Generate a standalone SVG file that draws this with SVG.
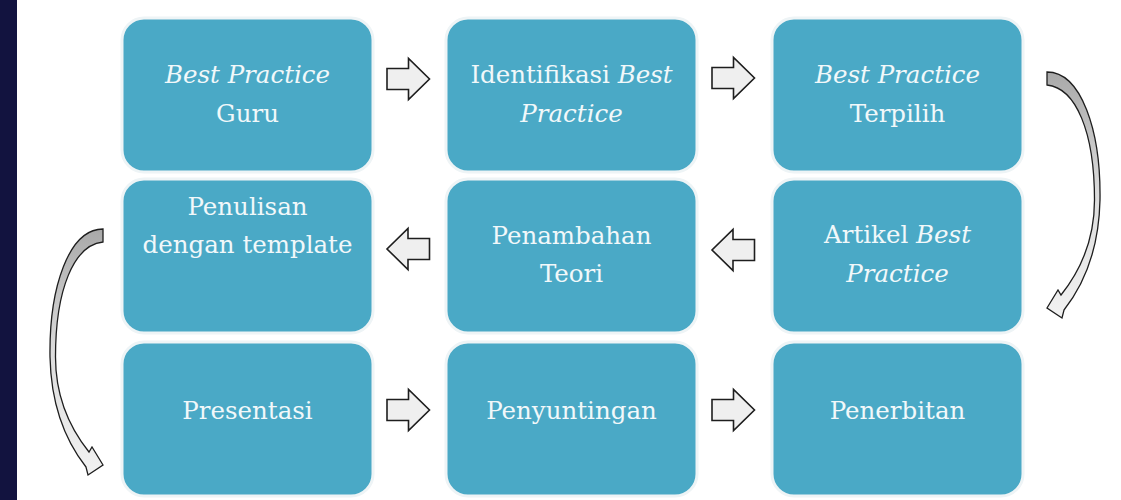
<svg xmlns="http://www.w3.org/2000/svg" width="1121" height="500" viewBox="0 0 1121 500">
  <style>
    .box { fill: #4aa9c6; stroke: #eef4f6; stroke-width: 3; }
    .lbl { font-family: "DejaVu Serif", "Liberation Serif", serif; font-size: 24.5px; fill: #f1f8fa; text-anchor: middle; }
    .it { font-style: italic; }
    .blk { fill: #efefef; stroke: #1e1e1e; stroke-width: 1.6; stroke-linejoin: miter; }
    .curve { fill: url(#curveFill); stroke: #1e1e1e; stroke-width: 1.3; stroke-linejoin: miter; }
  </style>
  <defs>
    <linearGradient id="curveFill" x1="0" y1="0" x2="0" y2="1">
      <stop offset="0" stop-color="#a9a9a9"/>
      <stop offset="0.5" stop-color="#dcdcdc"/>
      <stop offset="1" stop-color="#f2f2f2"/>
    </linearGradient>
    <path id="arrowR" class="blk" d="M0,-10.5 H21.5 V-20.5 L42.5,0 L21.5,20.5 V10.5 H0 Z"/>
    <path id="arrowL" class="blk" d="M42.5,-10.5 H21 V-20.5 L0,0 L21,20.5 V10.5 H42.5 Z"/>
    <path id="curveR" class="curve" d="M1047,72 C1081,72 1101,130 1100,200 C1099,245 1086,282 1064,310 L1062,318 L1047,308 L1058,290 L1061,295 C1081,270 1094.5,240 1094.5,200 C1094.5,132 1076,88 1047,85 Z"/>
  </defs>

  <rect x="0" y="0" width="1121" height="500" fill="#ffffff"/>
  <rect x="0" y="0" width="17" height="500" fill="#12133f"/>

  <g id="node-best-practice-guru">
    <rect class="box" x="122" y="18" width="251" height="154" rx="22"/>
    <text class="lbl it" x="247.5" y="83">Best Practice</text>
    <text class="lbl" x="247.5" y="122">Guru</text>
  </g>
  <g id="node-identifikasi">
    <rect class="box" x="446" y="18" width="251" height="154" rx="22"/>
    <text class="lbl" x="571.5" y="83">Identifikasi <tspan class="it">Best</tspan></text>
    <text class="lbl it" x="571.5" y="122">Practice</text>
  </g>
  <g id="node-terpilih">
    <rect class="box" x="772" y="18" width="251" height="154" rx="22"/>
    <text class="lbl it" x="897.5" y="83">Best Practice</text>
    <text class="lbl" x="897.5" y="122">Terpilih</text>
  </g>

  <g id="node-penulisan">
    <rect class="box" x="122" y="179" width="251" height="154" rx="22"/>
    <text class="lbl" x="247.5" y="215">Penulisan</text>
    <text class="lbl" x="247.5" y="253">dengan template</text>
  </g>
  <g id="node-penambahan">
    <rect class="box" x="446" y="179" width="251" height="154" rx="22"/>
    <text class="lbl" x="571.5" y="244">Penambahan</text>
    <text class="lbl" x="571.5" y="282">Teori</text>
  </g>
  <g id="node-artikel">
    <rect class="box" x="772" y="179" width="251" height="154" rx="22"/>
    <text class="lbl" x="897.5" y="243">Artikel <tspan class="it">Best</tspan></text>
    <text class="lbl it" x="897.5" y="282">Practice</text>
  </g>

  <g id="node-presentasi">
    <rect class="box" x="122" y="342" width="251" height="154" rx="22"/>
    <text class="lbl" x="247.5" y="419">Presentasi</text>
  </g>
  <g id="node-penyuntingan">
    <rect class="box" x="446" y="342" width="251" height="154" rx="22"/>
    <text class="lbl" x="571.5" y="419">Penyuntingan</text>
  </g>
  <g id="node-penerbitan">
    <rect class="box" x="772" y="342" width="251" height="154" rx="22"/>
    <text class="lbl" x="897.5" y="419">Penerbitan</text>
  </g>

  <g id="connectors">
    <use href="#arrowR" transform="translate(387,79)"/>
    <use href="#arrowR" transform="translate(712,78)"/>
    <use href="#arrowL" transform="translate(712,250)"/>
    <use href="#arrowL" transform="translate(387,249)"/>
    <use href="#arrowR" transform="translate(387,410)"/>
    <use href="#arrowR" transform="translate(712,410)"/>
    <use href="#curveR"/>
    <use href="#curveR" transform="translate(1150,157) scale(-1,1)"/>
  </g>
</svg>
